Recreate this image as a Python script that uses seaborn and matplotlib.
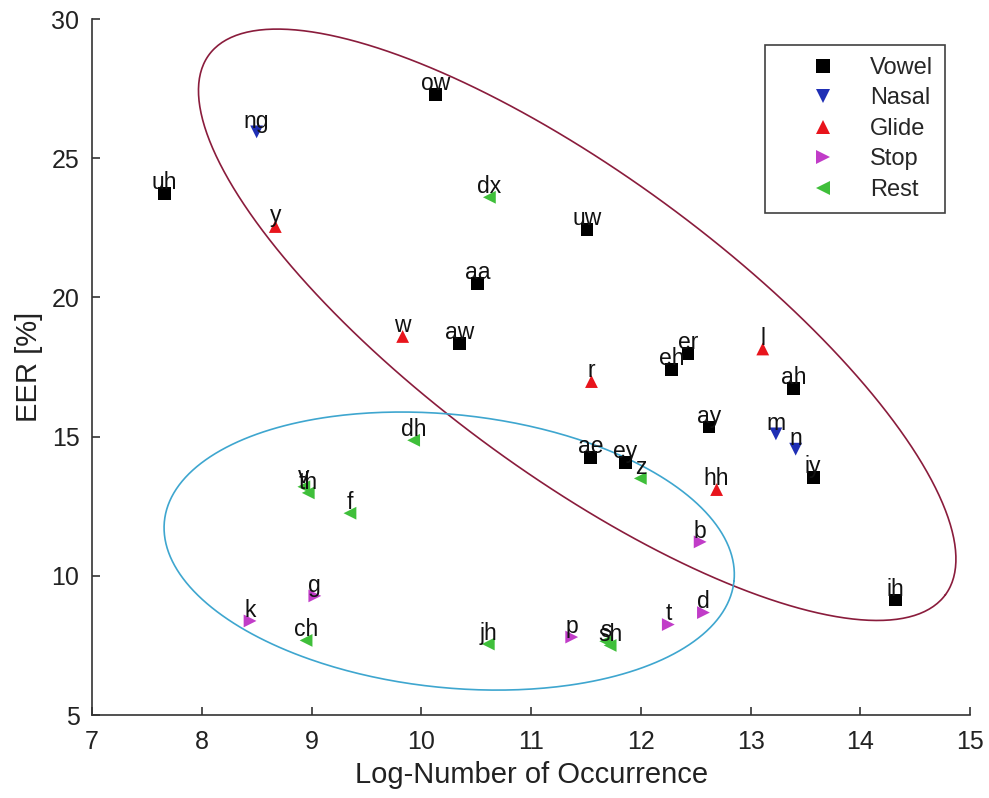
import numpy as np
import pandas as pd
import matplotlib
matplotlib.use("Agg")
import matplotlib.pyplot as plt
import seaborn as sns

# Phone classes and their per-phone EER against log-frequency
phones = ["ow", "uh", "uw", "aa", "aw", "eh", "er", "ah", "ay", "ae", "ey", "iy", "ih",
          "ng", "m", "n",
          "y", "w", "l", "r", "hh",
          "b", "d", "t", "p", "k", "g",
          "dx", "dh", "z", "v", "th", "f", "s", "sh", "jh", "ch"]
classes = (["Vowel"] * 13 + ["Nasal"] * 3 + ["Glide"] * 5 + ["Stop"] * 6 + ["Rest"] * 10)
log_occurrence = [10.13, 7.66, 11.51, 10.51, 10.35, 12.28, 12.43, 13.39, 12.62, 11.54, 11.86, 13.57, 14.32,
                  8.50, 13.23, 13.41,
                  8.67, 9.83, 13.11, 11.55, 12.69,
                  12.54, 12.57, 12.25, 11.37, 8.44, 9.03,
                  10.62, 9.93, 11.995, 8.93, 8.97, 9.35, 11.68, 11.72, 10.61, 8.95]
eer = [27.30, 23.75, 22.45, 20.50, 18.35, 17.42, 18.00, 16.73, 15.35, 14.25, 14.08, 13.53, 9.13,
       25.95, 15.10, 14.55,
       22.55, 18.60, 18.15, 16.98, 13.10,
       11.22, 8.68, 8.25, 7.80, 8.38, 9.28,
       23.60, 14.87, 13.50, 13.20, 12.98, 12.25, 7.65, 7.50, 7.55, 7.68]

class_order = ["Vowel", "Nasal", "Glide", "Stop", "Rest"]
class_colors = {"Vowel": "#000000", "Nasal": "#1f2fb5", "Glide": "#e8141c",
                "Stop": "#c13cc8", "Rest": "#3fbf3a"}
class_markers = {"Vowel": "s", "Nasal": "v", "Glide": "^", "Stop": ">", "Rest": "<"}

df = pd.DataFrame({"phone": phones, "cls": classes, "x": log_occurrence, "y": eer})

sns.set_style("ticks")
plt.rcParams["font.family"] = ["Liberation Sans", "DejaVu Sans"]
plt.rcParams["xtick.direction"] = "in"
plt.rcParams["ytick.direction"] = "in"

fig = plt.figure(figsize=(9.89, 7.98), dpi=100)
ax = fig.add_axes([0.093, 0.104, 0.888, 0.872])

sns.scatterplot(data=df, x="x", y="y", hue="cls", style="cls",
                hue_order=class_order, style_order=class_order,
                palette=class_colors, markers=class_markers,
                s=85, linewidth=0, ax=ax, zorder=3)

for _, row in df.iterrows():
    ax.annotate(row["phone"], (row["x"], row["y"]), xytext=(0, 3),
                textcoords="offset points", ha="center", va="baseline",
                fontsize=16.5, color="#111111", zorder=4)

# Group outlines: centre plus two conjugate semi-axis vectors, in data units
t = np.linspace(0, 2 * np.pi, 400)
outlines = [
    ((11.42, 19.02), (3.354, -9.70), (0.808, 4.332), "#8a1c3c"),
    ((10.254, 10.89), (2.594, -1.085), (0.131, 4.876), "#3ea6cf"),
]
for (cx, cy), (ux, uy), (vx, vy), col in outlines:
    ax.plot(cx + ux * np.cos(t) + vx * np.sin(t),
            cy + uy * np.cos(t) + vy * np.sin(t),
            color=col, lw=1.2, zorder=2)

ax.set_xlim(7, 15)
ax.set_ylim(5, 30)
ax.set_xticks(range(7, 16))
ax.set_yticks(range(5, 31, 5))
ax.tick_params(labelsize=18, colors="#333333", labelcolor="#222222", length=6, width=1.2)
ax.tick_params(axis="x", pad=11)
ax.tick_params(axis="y", pad=9)
for side in ("top", "right"):
    ax.spines[side].set_visible(False)
for side in ("left", "bottom"):
    ax.spines[side].set_color("#333333")
    ax.spines[side].set_linewidth(1.2)

ax.set_xlabel("Log-Number of Occurrence", fontsize=21, color="#222222", labelpad=5)
ax.set_ylabel("EER [%]", fontsize=21, color="#222222", labelpad=6)

handles, labels = ax.get_legend_handles_labels()
leg = ax.legend(handles, labels, loc="upper right", bbox_to_anchor=(0.9715, 0.9626),
                fontsize=17, frameon=True, fancybox=False, edgecolor="#111111",
                borderpad=0.5, handlelength=3.9, handletextpad=0.05,
                labelspacing=0.36, markerscale=1.1, borderaxespad=0)
leg.get_frame().set_linewidth(1.2)

fig.savefig("out.png", dpi=100, facecolor="white")
